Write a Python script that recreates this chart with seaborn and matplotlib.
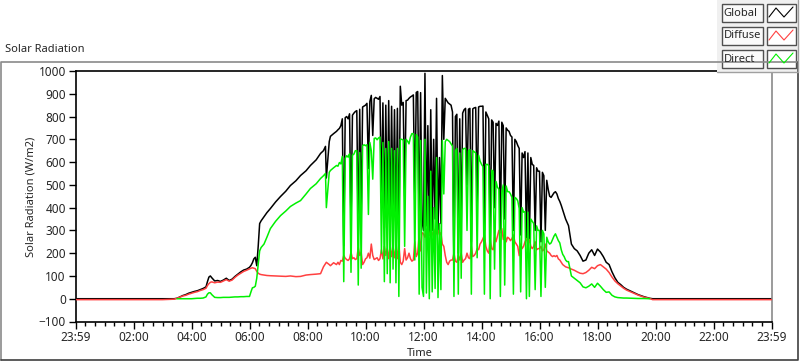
import numpy as np
import pandas as pd
import matplotlib
matplotlib.use("Agg")
import matplotlib.pyplot as plt
import seaborn as sns
from matplotlib.patches import Rectangle
from matplotlib.ticker import MultipleLocator, FixedLocator

nan = np.nan

# --- early morning (night, dawn, clear ramp up) ---
early_hours = [0, 1, 2, 3.0, 3.4, 3.5, 3.6, 3.7, 3.8, 3.9,
               4.0, 4.1, 4.2, 4.3, 4.4, 4.5, 4.55, 4.6, 4.65, 4.7,
               4.8, 4.9, 5.0, 5.1, 5.2, 5.3, 5.4, 5.5, 5.6, 5.7,
               5.8, 5.9, 6.0, 6.05, 6.1, 6.15, 6.2, 6.25, 6.3, 6.35,
               6.4, 6.5, 6.6, 6.72, 6.9, 7.07, 7.25, 7.41, 7.6, 7.76,
               7.95, 8.1, 8.3, 8.45, 8.55, 8.62, 8.65, 8.75, 8.79, 8.9]
early_global = [0, 0, 0, 0, 0, 2, 8, 14, 18, 24,
                28, 32, 35, 40, 45, 52, 75, 95, 100, 92,
                78, 80, 76, 82, 90, 80, 86, 98, 108, 118,
                126, 130, 138, 146, 158, 175, 182, 145, 230, 330,
                342, 360, 378, 396, 425, 449, 472, 497, 518, 541,
                562, 585, 610, 638, 650, 669, 530, 690, 713, 725]
early_diffuse = [-4, -4, -4, -4, -2, 2, 7, 12, 15, 20,
                 24, 28, 31, 36, 40, 46, 58, 66, 72, 74,
                 70, 73, 72, 78, 84, 77, 82, 94, 104, 112,
                 120, 125, 131, 134, 136, 134, 132, 120, 112, 108,
                 106, 104, 102, 101, 100, 99, 98, 100, 97, 98,
                 104, 106, 108, 110, 140, 154, 160, 150, 145, 158]
early_direct = [nan, nan, nan, nan, nan, 0, 0, 0, 0, 0,
                0, 1, 2, 2, 3, 8, 20, 26, 26, 18,
                6, 5, 5, 6, 6, 6, 7, 8, 8, 9,
                9, 10, 10, 30, 48, 50, 55, 90, 150, 210,
                225, 240, 270, 308, 340, 365, 385, 405, 420, 431,
                460, 484, 505, 528, 540, 550, 400, 555, 563, 575]

# --- midday, one value every 3 minutes from 09:00 (one row per hour) ---
midday_start = 9.0
midday_step_min = 3
midday_global = [
    735, 742, 748, 760, 790, 233, 795, 800, 790, 812, 321, 806, 815, 822, 826, 277, 832, 339, 842, 846,
    850, 858, 572, 866, 893, 717, 878, 884, 880, 876, 888, 420, 860, 310, 850, 330, 870, 308, 845, 360,
    830, 300, 836, 250, 933, 850, 862, 450, 870, 872, 880, 886, 890, 895, 420, 906, 910, 300, 905, 340,
    300, 990, 320, 760, 280, 830, 300, 700, 350, 880, 300, 620, 330, 980, 700, 880, 870, 860, 855, 850,
    820, 132, 800, 810, 200, 790, 320, 815, 830, 836, 500, 832, 836, 250, 834, 838, 840, 420, 842, 845,
    845, 846, 300, 820, 805, 790, 260, 785, 775, 400, 770, 761, 780, 300, 775, 760, 350, 750, 740, 735,
    717, 710, 300, 700, 690, 673, 660, 280, 640, 620, 646, 260, 640, 250, 620, 590, 585, 300, 575, 560,
    560, 250, 555, 540, 300, 520, 480, 450, 445, 455, 465, 470, 460, 440, 427, 410, 390, 370, 350, 335,
]
midday_diffuse = [
    150, 160, 150, 168, 165, 190, 178, 172, 168, 176, 205, 176, 180, 172, 176, 225, 190, 205, 150, 160,
    175, 180, 200, 178, 240, 190, 172, 176, 180, 168, 176, 215, 175, 230, 190, 220, 176, 232, 185, 225,
    180, 230, 176, 240, 160, 150, 165, 220, 170, 180, 200, 176, 165, 170, 250, 185, 200, 280, 210, 290,
    285, 270, 300, 290, 280, 300, 290, 270, 305, 285, 300, 280, 290, 240, 230, 190, 160, 150, 165, 170,
    170, 200, 165, 160, 190, 170, 200, 160, 170, 176, 200, 180, 176, 230, 185, 190, 200, 220, 215, 240,
    250, 264, 280, 230, 210, 200, 260, 220, 215, 270, 250, 275, 300, 290, 308, 260, 290, 250, 270, 265,
    255, 264, 280, 250, 240, 230, 189, 240, 220, 230, 250, 264, 240, 260, 230, 220, 230, 250, 215, 220,
    220, 230, 210, 215, 240, 210, 205, 200, 190, 185, 189, 185, 190, 175, 170, 160, 150, 145, 140, 138,
]
midday_direct = [
    585, 582, 598, 592, 625, 75, 617, 628, 622, 636, 116, 630, 635, 650, 650, 60, 642, 134, 672, 676,
    672, 676, 370, 686, 650, 525, 704, 706, 698, 706, 710, 200, 686, 75, 660, 110, 690, 70, 660, 130,
    650, 70, 660, 10, 700, 700, 697, 230, 700, 692, 680, 710, 725, 725, 170, 721, 710, 20, 695, 50,
    10, 700, 25, 450, 0, 560, 30, 400, 45, 620, 5, 330, 40, 695, 460, 690, 700, 695, 690, 680,
    670, 10, 650, 660, 20, 640, 90, 655, 660, 660, 300, 650, 655, 20, 650, 645, 640, 180, 630, 605,
    590, 580, 20, 590, 590, 585, 0, 565, 560, 130, 515, 490, 480, 10, 470, 500, 60, 495, 470, 470,
    460, 445, 20, 445, 440, 430, 396, 30, 400, 380, 383, 0, 380, 10, 350, 340, 330, 40, 320, 300,
    300, 10, 300, 285, 50, 270, 250, 240, 245, 260, 275, 285, 270, 255, 245, 215, 195, 185, 170, 163,
]

# --- evening decline and night ---
late_hours = [17.0, 17.1, 17.2, 17.3, 17.4, 17.5, 17.6, 17.7, 17.8, 17.9,
              18.0, 18.1, 18.2, 18.3, 18.4, 18.5, 18.6, 18.7, 18.8, 18.9,
              19.0, 19.2, 19.4, 19.6, 19.8, 19.9, 21.0, 22.5, 24.0]
late_global = [321, 240, 220, 210, 190, 165, 170, 200, 215, 190,
               218, 205, 185, 160, 150, 118, 92, 72, 62, 50,
               42, 30, 18, 9, 2, 0, 0, 0, 0]
late_diffuse = [136, 130, 125, 118, 112, 110, 115, 125, 138, 132,
                145, 150, 140, 130, 115, 95, 78, 66, 56, 46,
                38, 27, 16, 7, 1, -4, -4, -4, -4]
late_direct = [163, 100, 90, 80, 70, 52, 48, 55, 65, 50,
               68, 55, 40, 28, 30, 15, 8, 5, 4, 3,
               3, 2, 1, 1, 0, nan, nan, nan, nan]

x_tick_labels = ['23:59', '02:00', '04:00', '06:00', '08:00', '10:00', '12:00',
                 '14:00', '16:00', '18:00', '20:00', '22:00', '23:59']
series_names = ['Global', 'Diffuse', 'Direct']
series_colors = {'Global': '#000000', 'Diffuse': '#ff4040', 'Direct': '#00f000'}


def build_frame():
    mid_hours = midday_start + np.arange(len(midday_global)) * midday_step_min / 60.0
    df = pd.DataFrame({
        'hours': np.concatenate([early_hours, mid_hours, late_hours]),
        'Global': np.concatenate([early_global, midday_global, late_global]),
        'Diffuse': np.concatenate([early_diffuse, midday_diffuse, late_diffuse]),
        'Direct': np.concatenate([early_direct, midday_direct, late_direct]),
    })
    return df


def run_plot():
    df = build_frame()

    sns.set_style("white")
    plt.rcParams['font.family'] = ['Noto Sans', 'DejaVu Sans']
    fs = 8

    W, H = 800, 361
    fig = plt.figure(figsize=(W / 100, H / 100), dpi=100)
    fig.patch.set_facecolor('white')
    ax = fig.add_axes([75.5 / W, 1 - 321.5 / H, 696 / W, 250.5 / H])

    zorders = {'Global': 2, 'Diffuse': 3, 'Direct': 4}
    for name in series_names:
        part = df[['hours', name]].dropna()
        sns.lineplot(data=part, x='hours', y=name, color=series_colors[name],
                     lw=1.1, estimator=None, sort=False, ax=ax, zorder=zorders[name])

    ax.set_xlim(0, 24)
    ax.set_ylim(-100, 1000)
    ax.xaxis.set_major_locator(FixedLocator(np.arange(0, 25, 2)))
    ax.set_xticklabels(x_tick_labels)
    ax.xaxis.set_minor_locator(MultipleLocator(1 / 3))
    ax.yaxis.set_major_locator(MultipleLocator(100))
    ax.tick_params(axis='both', which='major', direction='out', length=5, width=1,
                   color='black', labelsize=fs + 0.5, pad=2, bottom=True, left=True)
    ax.tick_params(axis='x', which='minor', direction='out', length=3, width=1,
                   color='black', bottom=True)
    ax.set_xlabel('')
    ax.set_ylabel('')
    for side in ['left', 'bottom', 'top']:
        ax.spines[side].set_color('black')
        ax.spines[side].set_linewidth(1.2)
    ax.spines['right'].set_color('#8a8a8a')
    ax.spines['right'].set_linewidth(1.2)

    # overlay in pixel coordinates for the panel frame, labels and legend
    ov = fig.add_axes([0, 0, 1, 1], zorder=5)
    ov.set_xlim(0, W)
    ov.set_ylim(H, 0)
    ov.axis('off')
    ov.patch.set_alpha(0)

    ov.plot([0.5, 0.5, 797.5], [359.5, 61.5, 61.5], color='#8a8a8a', lw=1.2)
    ov.plot([0.5, 797.5, 797.5], [359.5, 359.5, 61.5], color='#404040', lw=1.2)

    ov.text(5, 50, 'Solar Radiation', fontsize=fs, va='center', ha='left')
    ov.text(420, 353, 'Time', fontsize=fs, va='center', ha='center')
    ov.text(31, 197, 'Solar Radiation (W/m2)', fontsize=fs, va='center', ha='center',
            rotation=90)

    # legend panel
    ov.add_patch(Rectangle((717, 0), 82, 72, facecolor='#f0f0f0', edgecolor='none'))
    ov.plot([717, 798], [72, 72], color='#a0a0a0', lw=1)
    ov.plot([798, 798], [0, 72], color='#a0a0a0', lw=1)
    for i, name in enumerate(series_names):
        top = 4 + i * 23
        ov.add_patch(Rectangle((721.5, top), 41, 17.5, facecolor='#fafafa',
                               edgecolor='#505050', lw=1))
        ov.add_patch(Rectangle((767, top), 29, 18, facecolor='white',
                               edgecolor='#505050', lw=1))
        ov.text(723.5, top + 9, name, fontsize=fs, va='center', ha='left')
        ov.plot([769, 776, 784, 793], [top + 13, top + 4, top + 13, top + 3],
                color=series_colors[name], lw=0.8)

    fig.savefig('out.png', dpi=100, facecolor='white')


if __name__ == "__main__":
    run_plot()
